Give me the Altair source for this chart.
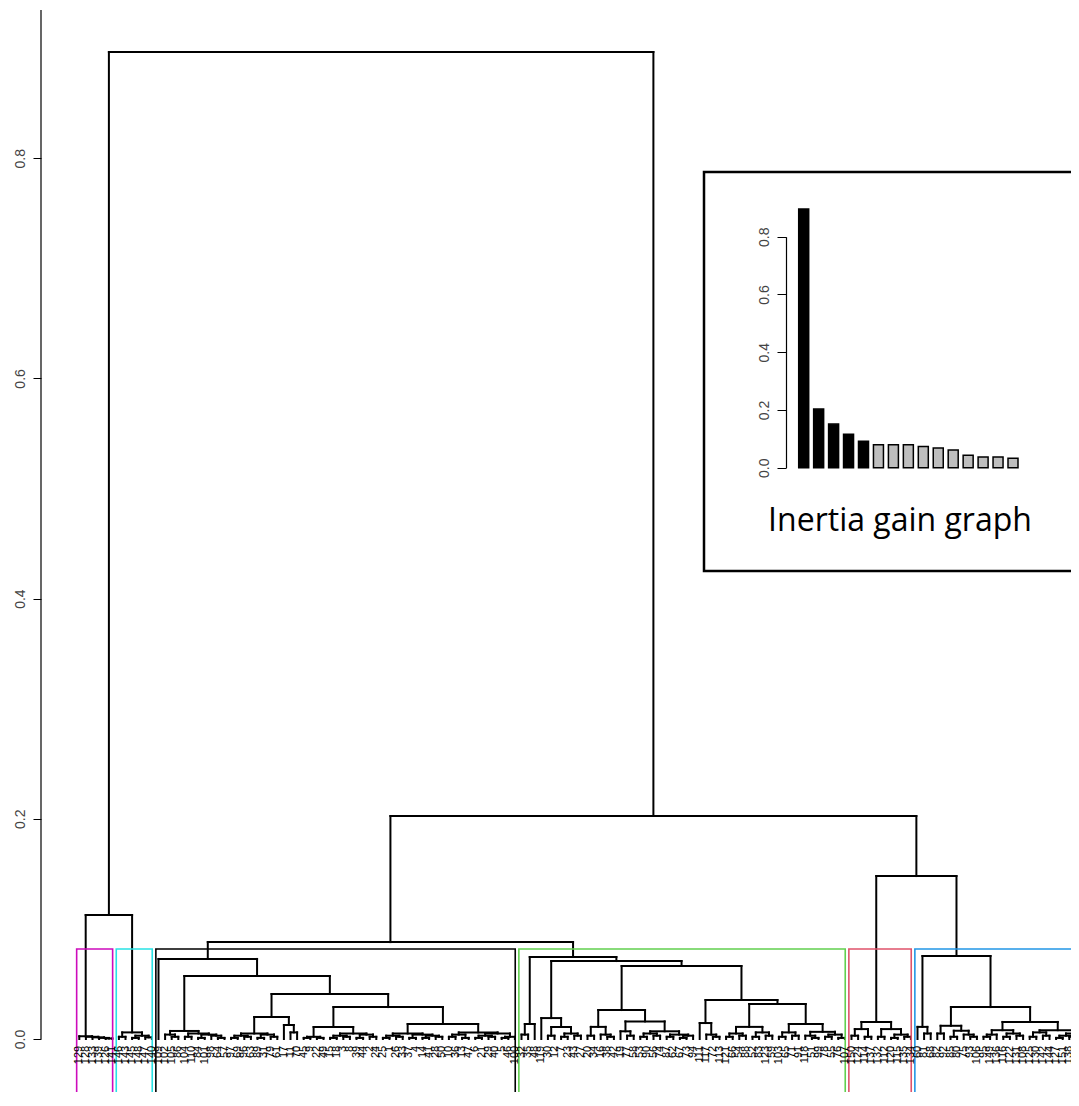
import re
import altair as alt
import pandas as pd

# ---------------- data ----------------
# Dendrogram topology: leaves are positions 0..153 in plotting order,
# every internal node is "(left,right):height".  {NAME} refers to another entry.
subtrees = {
    "root": "({L1},{R1}):0.8965",
    "L1": "({M},{C}):0.1126",
    "M": "(0,(1,(2,(3,(4,5):0.0005):0.001):0.0015):0.002):0.0025",
    "C": "((6,7):0.002,((8,9):0.001,(10,11):0.0015):0.003):0.006",
    "R1": "({P},{Q}):0.2025",
    "P": "({B0},{G0}):0.088",
    "B0": "(12,{B1}):0.0727",
    "B1": "({B2},{B3}):0.0572",
    "B2": "((13,(14,15):0.002):0.004,((16,17):0.002,((18,19):0.001,(20,(21,22):0.001):0.003):0.004):0.005):0.0073",
    "B3": "({B4},{B5}):0.0409",
    "B4": "({B4a},{B4b}):0.020",
    "B4a": "(((23,24):0.001,(25,26):0.002):0.003,((27,28):0.001,(29,30):0.002):0.004):0.005",
    "B4b": "(31,(32,33):0.006):0.0127",
    "B5": "({B6},{B7}):0.029",
    "B6": "({B6L},{B6R}):0.0109",
    "B6L": "((34,35):0.001,(36,37):0.001):0.002",
    "B6R": "(((38,39):0.001,(40,41):0.002):0.003,((42,43):0.001,(44,45):0.002):0.004):0.005",
    "B7": "({B7L},{B7R}):0.0136",
    "B7L": "(((46,47):0.001,(48,49):0.002):0.003,((50,51):0.001,((52,53):0.001,(54,55):0.002):0.003):0.004):0.005",
    "B7R": "(((56,57):0.002,(58,59):0.001):0.004,(((60,61):0.001,(62,63):0.002):0.003,((64,65):0.001,66):0.002):0.005):0.006",
    "G0": "({G0L},{G1}):0.0745",
    "G0L": "((67,68):0.004,69):0.0136",
    "G1": "({G2},{G3}):0.0708",
    "G2": "(70,((71,72):0.003,((73,74):0.002,(75,76):0.003):0.005):0.0109):0.019",
    "G3": "({G4},{G5}):0.0663",
    "G4": "({G4L},{G4R}):0.0263",
    "G4L": "((77,78):0.003,(79,(80,81):0.002):0.004):0.011",
    "G4R": "((82,(83,84):0.003):0.007,(((85,86):0.002,(87,88):0.003):0.005,((89,90):0.002,((91,92):0.001,93):0.003):0.004):0.007):0.016",
    "G5": "({G5L},{G6}):0.0354",
    "G5L": "(94,(95,(96,97):0.002):0.004):0.0145",
    "G6": "({G6L},{G6R}):0.0318",
    "G6L": "(((98,99):0.002,(100,101):0.003):0.005,((102,103):0.002,(104,105):0.003):0.006):0.011",
    "G6R": "(((106,107):0.002,(108,109):0.003):0.006,((110,(111,112):0.001):0.003,((113,114):0.002,(115,116):0.001):0.004):0.0065):0.0136",
    "Q": "({Red},{BT}):0.148",
    "Red": "(((117,118):0.003,(119,120):0.002):0.009,((121,122):0.002,((123,124):0.001,(125,126):0.002):0.004):0.009):0.0155",
    "BT": "((127,(128,129):0.005):0.011,{BR}):0.0754",
    "BR": "({BRL},{BRR}):0.029",
    "BRL": "((130,131):0.005,((132,133):0.002,(134,(135,136):0.002):0.004):0.0075):0.012",
    "BRR": "({BRRL},{BRRR}):0.0155",
    "BRRL": "(((137,138):0.002,139):0.004,((140,141):0.002,(142,143):0.003):0.005):0.008",
    "BRRR": "(((144,145):0.002,(146,147):0.003):0.006,(((148,149):0.001,(150,151):0.002):0.003,(152,153):0.002):0.005):0.008",
}

leaf_labels = [
    129, 128, 133, 139, 126, 141,
    146, 143, 145, 148, 147, 140,
    109, 102, 105, 86, 104, 110, 84, 101, 98, 64, 57, 97, 69, 96, 63, 89, 31, 79,
    61, 17, 11, 70, 45, 9, 22, 49, 15, 18, 3, 8, 39, 44, 2, 24, 25, 1, 26, 33,
    37, 4, 14, 41, 28, 50, 10, 36, 13, 47, 6, 21, 29, 40, 5, 46, 100,
    32, 35, 48, 119, 30, 12, 7, 23, 43, 27, 20, 34, 16, 38, 42, 19, 77, 58, 53, 90,
    56, 74, 87, 62, 67, 73, 94, 111, 117, 72, 113, 121, 66, 54, 88, 52, 83, 123, 59,
    103, 65, 71, 91, 118, 51, 99, 78, 55, 76, 107,
    150, 124, 114, 137, 132, 112, 120, 115, 135, 134,
    60, 81, 68, 82, 92, 85, 80, 75, 93, 106, 95, 149, 136, 116, 122, 131, 108, 125,
    130, 142, 144, 127, 151, 138, 152, 153, 154,
]

cluster_first = [0, 6, 12, 67, 117, 127]
cluster_last = [5, 11, 66, 116, 126, 153]
cluster_colors = ["#CD0BBC", "#28E2E5", "#000000", "#61D04F", "#DF536B", "#2297E6"]
cluster_cut = 0.0817

gain_rank = list(range(1, 16))
gain_values = [0.896, 0.203, 0.151, 0.1155, 0.0913, 0.0797, 0.0797, 0.0797,
               0.073, 0.068, 0.061, 0.043, 0.037, 0.037, 0.0325]
gain_colors = ["#000000"] * 5 + ["#BEBEBE"] * 10

y_ticks = [0.0, 0.2, 0.4, 0.6, 0.8]
inset_title = "Inertia gain graph"

# ---------------- layout constants (pixels) ----------------
W, H = 1030, 1082
PAD_L, PAD_T = 33, 2
LEAF0 = 38.3          # x of first leaf inside plot
STEP = 6.6            # leaf spacing
ZERO_Y = 1029.0       # y of height 0 inside plot
PER_UNIT = 1101.0     # pixels per unit of height

x_dom = [-LEAF0 / STEP, (W - LEAF0) / STEP]
y_dom = [(ZERO_Y - H) / PER_UNIT, ZERO_Y / PER_UNIT]


# ---------------- build the tree ----------------
def expand(name):
    return re.sub(r"\{(\w+)\}", lambda m: expand(m.group(1)), subtrees[name])


newick = expand("root")


def parse(s):
    pos = 0

    def node():
        nonlocal pos
        if s[pos] == "(":
            pos += 1
            left = node()
            pos += 1  # ','
            right = node()
            pos += 2  # '):'
            m = re.match(r"[0-9.]+", s[pos:])
            pos += len(m.group())
            return (float(m.group()), left, right)
        m = re.match(r"\d+", s[pos:])
        pos += len(m.group())
        return int(m.group())

    return node()


tree = parse(newick)
segs = []


def layout(n):
    if isinstance(n, int):
        return float(n), 0.0
    h, l, r = n
    xl, hl = layout(l)
    xr, hr = layout(r)
    segs.append(dict(x=xl, x2=xr, y=h, y2=h))
    segs.append(dict(x=xl, x2=xl, y=hl, y2=h))
    segs.append(dict(x=xr, x2=xr, y=hr, y2=h))
    return (xl + xr) / 2, h


layout(tree)
seg_df = pd.DataFrame(segs)

rect_df = pd.DataFrame({
    "x": [f - 0.4 for f in cluster_first],
    "x2": [l + 0.05 for l in cluster_last],
    "y": [cluster_cut] * len(cluster_first),
    "y2": [y_dom[0] - 0.05] * len(cluster_first),
    "color": cluster_colors,
})

lab_df = pd.DataFrame({
    "x": list(range(len(leaf_labels))),
    "y": [-0.0062] * len(leaf_labels),
    "label": [str(v) for v in leaf_labels],
})

axis_df = pd.DataFrame({"y": [0.0], "y2": [y_dom[1]]})

gain_df = pd.DataFrame({"rank": gain_rank, "gain": gain_values,
                        "base": [0.0] * len(gain_rank), "color": gain_colors})

# ---------------- main dendrogram ----------------
xs = alt.Scale(domain=x_dom, nice=False, zero=False)
ys = alt.Scale(domain=y_dom, nice=False, zero=False)

y_axis = alt.Axis(values=y_ticks, format=".1f", domain=False, grid=False,
                  tickSize=8, tickColor="black", tickWidth=1,
                  labelAngle=270, labelAlign="center", labelBaseline="bottom",
                  labelPadding=6, labelFontSize=14, labelFont="Liberation Sans",
                  labelColor="#444444", title=None)

dendro = alt.Chart(seg_df).mark_rule(color="black", strokeWidth=2, strokeCap="square", clip=True).encode(
    x=alt.X("x:Q", scale=xs, axis=None),
    x2="x2:Q",
    y=alt.Y("y:Q", scale=ys, axis=y_axis),
    y2="y2:Q",
)

axis_line = alt.Chart(axis_df).mark_rule(color="black", strokeWidth=1.2).encode(
    x=alt.value(0),
    y=alt.Y("y:Q", scale=ys, axis=y_axis),
    y2="y2:Q",
)

rects = alt.Chart(rect_df).mark_rect(filled=False, strokeWidth=1.6, clip=True).encode(
    x=alt.X("x:Q", scale=xs, axis=None),
    x2="x2:Q",
    y=alt.Y("y:Q", scale=ys, axis=y_axis),
    y2="y2:Q",
    color=alt.Color("color:N", scale=None),
)

labels = alt.Chart(lab_df).mark_text(angle=270, align="right", baseline="middle",
                                     fontSize=11, font="Liberation Sans", color="black",
                                     clip=True).encode(
    x=alt.X("x:Q", scale=xs, axis=None),
    y=alt.Y("y:Q", scale=ys, axis=y_axis),
    text="label:N",
)

main = alt.layer(dendro, rects, labels, axis_line)

# ---------------- inset: inertia gain ----------------
ixs = alt.Scale(domain=[1, 15], range=[757.7, 977.0], nice=False, zero=False)
iys = alt.Scale(domain=[0, 0.8], range=[457.7, 226.7], nice=False, zero=False)

inset_axis = alt.Axis(orient="left", offset=-745, values=y_ticks, format=".1f", grid=False,
                      domainColor="black", domainWidth=1.2,
                      tickSize=9, tickColor="black", tickWidth=1,
                      labelAngle=270, labelAlign="center", labelBaseline="bottom",
                      labelPadding=6, labelFontSize=14, labelFont="Liberation Sans",
                      labelColor="#444444", title=None, zindex=2)

frame = alt.Chart(pd.DataFrame({"k": [0]})).mark_rect(
    fill="white", stroke="black", strokeWidth=2.5, clip=True).encode(
    x=alt.value(663), x2=alt.value(1060), y=alt.value(162), y2=alt.value(561))

bars = alt.Chart(gain_df).mark_bar(size=10, stroke="black", strokeWidth=1.5).encode(
    x=alt.X("rank:Q", scale=ixs, axis=None),
    y=alt.Y("gain:Q", scale=iys, axis=inset_axis),
    y2="base:Q",
    fill=alt.Color("color:N", scale=None),
)

title_txt = alt.Chart(pd.DataFrame({"t": [inset_title]})).mark_text(
    font="Open Sans", fontSize=32, align="center", baseline="alphabetic", color="black").encode(
    x=alt.value(859), y=alt.value(521), text="t:N")

inset = alt.layer(frame, bars, title_txt)

chart = alt.layer(main, inset).resolve_scale(x="independent", y="independent").properties(
    width=W, height=H,
    autosize=alt.AutoSizeParams(type="none"),
    padding={"left": PAD_L, "top": PAD_T, "right": 0, "bottom": 0},
    background="white",
).configure_view(stroke=None)

chart.save("out.html", embed_options={"renderer": "svg", "actions": False})
